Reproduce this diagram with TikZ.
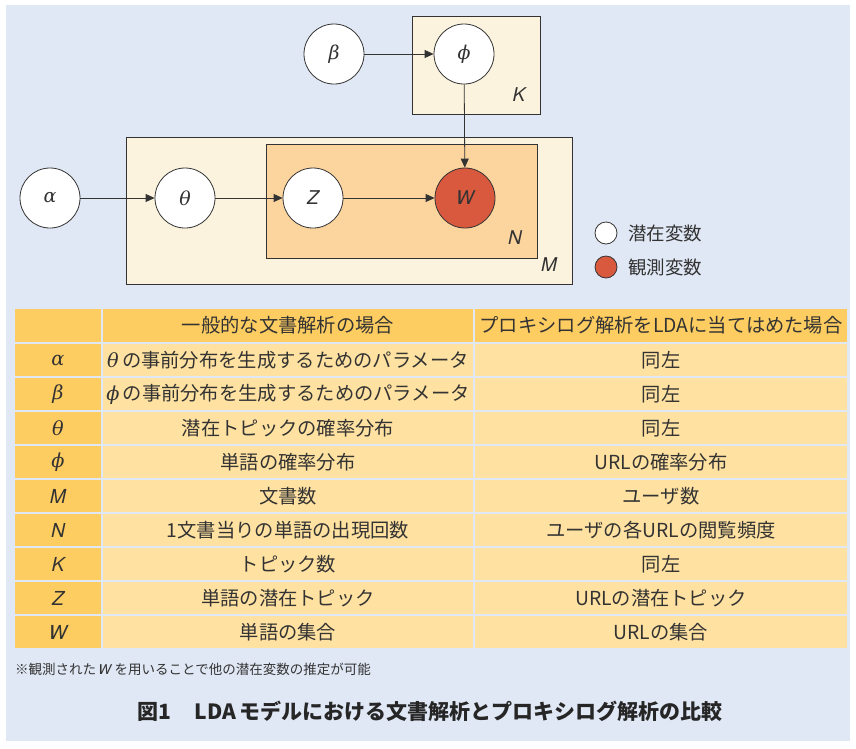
\documentclass[tikz,border=0pt]{standalone}
\usepackage{fontspec}
\setmainfont{TeX Gyre Heros}
\newfontfamily\cjk{Noto Sans CJK JP}
\newfontfamily\grkfont{DejaVu Serif}
\newcommand{\gk}[1]{{\grkfont\itshape #1}}
\usetikzlibrary{arrows.meta}
\definecolor{bg}{HTML}{E1E8F5}
\definecolor{cream}{HTML}{FBF3DD}
\definecolor{peach}{HTML}{FCD49E}
\definecolor{obs}{HTML}{D9593F}
\definecolor{hdr}{HTML}{FECD61}
\definecolor{cellc}{HTML}{FFE2A1}
\definecolor{ink}{HTML}{333333}
\begin{document}
\begin{tikzpicture}[x=1pt,y=-1pt,
  var/.style={circle,draw=ink,line width=0.8pt,fill=white,minimum size=60pt,inner sep=0pt,text=ink,font=\fontsize{19}{19}\selectfont},
  obsvar/.style={var,fill=obs},
  plate/.style={draw=ink,line width=0.9pt},
  arr/.style={-{Triangle[length=9pt,width=8pt]},draw=ink,line width=0.8pt},
  platelabel/.style={font=\fontsize{19}{19}\selectfont\itshape,text=ink,inner sep=0pt},
  cellbase/.style={inner sep=0pt,text=ink,font=\fontsize{19.3}{21}\selectfont},
  cA/.style={cellbase,minimum width=86pt,fill=hdr},
  cB/.style={cellbase,minimum width=370pt,fill=cellc},
  cC/.style={cellbase,minimum width=372pt,fill=cellc},
  hrow/.style={minimum height=33pt,fill=hdr},
  brow/.style={minimum height=32pt},
  legtext/.style={anchor=west,inner sep=0pt,text=ink,font=\fontsize{18.5}{20}\selectfont\cjk}
]
\useasboundingbox (0,0) rectangle (856,748);
\fill[bg] (6,5) rectangle (850,741);

% plates
\draw[plate,fill=cream] (412,16) rectangle (540,114);
\draw[plate,fill=cream] (126,137) rectangle (572,284);
\draw[plate,fill=peach] (266,144) rectangle (537,258);
\node[platelabel] (labK) at (519,95) {K};
\node[platelabel] (labN) at (515,238) {N};
\node[platelabel] (labM) at (549,265) {M};

% variables
\node[var] (beta) at (334,54) {\gk{β}};
\node[var] (phi) at (464,54) {\gk{ϕ}};
\node[var] (alpha) at (50,198) {\gk{α}};
\node[var] (theta) at (185,198) {\gk{θ}};
\node[var] (z) at (313,198) {\itshape Z};
\node[obsvar] (w) at (465,198) {\itshape W};

\draw[arr] (beta) -- (phi);
\draw[arr] (phi) -- (w);
\draw[arr] (alpha) -- (theta);
\draw[arr] (theta) -- (z);
\draw[arr] (z) -- (w);

% legend
\node[var,minimum size=22pt] (legL) at (606,233) {};
\node[obsvar,minimum size=22pt] (legO) at (606,267) {};
\node[legtext] (legLt) at (628,233) {潜在変数};
\node[legtext] (legOt) at (628,267) {観測変数};

% table header
\node[cA,hrow] (h1) at (58,325.5) {};
\node[cB,hrow] (h2) at (288,325.5) {\cjk 一般的な文書解析の場合};
\node[cC,hrow] (h3) at (661,325.5) {\cjk プロキシログ解析をLDAに当てはめた場合};

% table body
\foreach \i/\a/\b/\c in {
  1/{\gk{α}}/{\gk{θ}\,\cjk の事前分布を生成するためのパラメータ}/{\cjk 同左},
  2/{\gk{β}}/{\gk{ϕ}\,\cjk の事前分布を生成するためのパラメータ}/{\cjk 同左},
  3/{\gk{θ}}/{\cjk 潜在トピックの確率分布}/{\cjk 同左},
  4/{\gk{ϕ}}/{\cjk 単語の確率分布}/{\cjk URLの確率分布},
  5/{\itshape M}/{\cjk 文書数}/{\cjk ユーザ数},
  6/{\itshape N}/{\cjk 1文書当りの単語の出現回数}/{\cjk ユーザの各URLの閲覧頻度},
  7/{\itshape K}/{\cjk トピック数}/{\cjk 同左},
  8/{\itshape Z}/{\cjk 単語の潜在トピック}/{\cjk URLの潜在トピック},
  9/{\itshape W}/{\cjk 単語の集合}/{\cjk URLの集合}}
{
  \node[cA,brow] (r\i-1) at (58,{360+34*(\i-1)}) {\a};
  \node[cB,brow] (r\i-2) at (288,{360+34*(\i-1)}) {\b};
  \node[cC,brow] (r\i-3) at (661,{360+34*(\i-1)}) {\c};
}

% footnote and caption
\node[anchor=west,inner sep=0pt,text=ink,font=\fontsize{13.5}{15}\selectfont] (note) at (15,669)
  {{\cjk ※観測された}\,\textit{W}\,{\cjk を用いることで他の潜在変数の推定が可能}};
\node[inner sep=0pt,text=black!85,font=\fontsize{21}{23}\selectfont\bfseries] (cap) at (430,711)
  {{\cjk\bfseries 図1}\hspace{1.1em}{\cjk\bfseries LDA\,モデルにおける文書解析とプロキシログ解析の比較}};
\end{tikzpicture}
\end{document}
